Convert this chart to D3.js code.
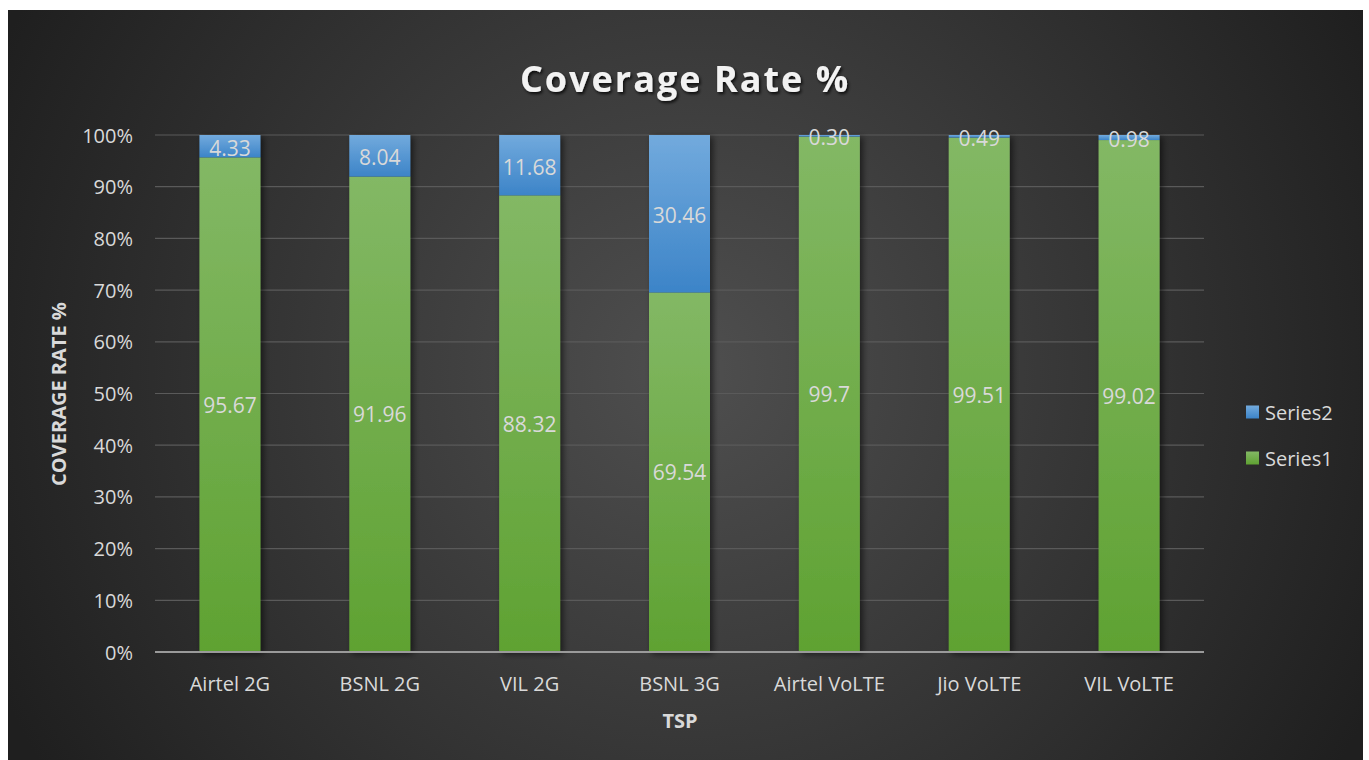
<!DOCTYPE html>
<html>
<head>
<meta charset="utf-8">
<script src="https://cdn.jsdelivr.net/npm/d3@7"></script>
<style>
  html, body { margin: 0; padding: 0; background: #ffffff; }
  svg { display: block; }
</style>
</head>
<body>
<script>
const categories = ["Airtel 2G", "BSNL 2G", "VIL 2G", "BSNL 3G", "Airtel VoLTE", "Jio VoLTE", "VIL VoLTE"];
const series1 = [95.67, 91.96, 88.32, 69.54, 99.7, 99.51, 99.02];
const series2 = [4.33, 8.04, 11.68, 30.46, 0.30, 0.49, 0.98];
const series1Labels = ["95.67", "91.96", "88.32", "69.54", "99.7", "99.51", "99.02"];
const series2Labels = ["4.33", "8.04", "11.68", "30.46", "0.30", "0.49", "0.98"];
const yTicks = [0, 10, 20, 30, 40, 50, 60, 70, 80, 90, 100];
const seriesNames = ["Series1", "Series2"];

(function () {
const W = 1369, H = 760;
const FONT = "'Open Sans', sans-serif";
const svg = d3.select("body").append("svg").attr("width", W).attr("height", H);
const defs = svg.append("defs");

const bg = defs.append("radialGradient").attr("id", "bg")
  .attr("gradientUnits", "userSpaceOnUse").attr("cx", 690).attr("cy", 370).attr("r", 760);
bg.append("stop").attr("offset", "0%").attr("stop-color", "#4f4f4f");
bg.append("stop").attr("offset", "100%").attr("stop-color", "#1f1f1f");

const gG = defs.append("linearGradient").attr("id", "gGreen").attr("x1", 0).attr("y1", 0).attr("x2", 0).attr("y2", 1);
gG.append("stop").attr("offset", "0%").attr("stop-color", "#83b865");
gG.append("stop").attr("offset", "100%").attr("stop-color", "#5fa232");
const gB = defs.append("linearGradient").attr("id", "gBlue").attr("x1", 0).attr("y1", 0).attr("x2", 0).attr("y2", 1);
gB.append("stop").attr("offset", "0%").attr("stop-color", "#72aadd");
gB.append("stop").attr("offset", "100%").attr("stop-color", "#3c84c8");

const sh = defs.append("filter").attr("id", "shadow").attr("x", "-20%").attr("y", "-5%").attr("width", "150%").attr("height", "115%");
sh.append("feDropShadow").attr("dx", 3).attr("dy", 2).attr("stdDeviation", 3).attr("flood-color", "#000").attr("flood-opacity", 0.55);

const ts = defs.append("filter").attr("id", "tshadow").attr("x", "-10%").attr("y", "-20%").attr("width", "130%").attr("height", "160%");
ts.append("feDropShadow").attr("dx", 1.5).attr("dy", 2).attr("stdDeviation", 1.5).attr("flood-color", "#000").attr("flood-opacity", 0.8);

svg.append("rect").attr("x", 8).attr("y", 10).attr("width", 1355).attr("height", 750).attr("fill", "url(#bg)");

const pLeft = 155, pRight = 1204, pTop = 135, pBottom = 652;
const x = d3.scaleBand().domain(categories).range([pLeft, pRight]).paddingInner(0.593).paddingOuter(0.2965);
const y = d3.scaleLinear().domain([0, 100]).range([pBottom, pTop]);

// gridlines
svg.append("g").selectAll("line").data(yTicks.filter(d => d > 0)).join("line")
  .attr("x1", pLeft).attr("x2", pRight)
  .attr("y1", d => y(d)).attr("y2", d => y(d))
  .attr("stroke", "#5a5a5a").attr("stroke-width", 1.2);

// y tick labels
svg.append("g").selectAll("text").data(yTicks).join("text")
  .attr("x", 133).attr("y", d => y(d))
  .attr("text-anchor", "end").attr("dominant-baseline", "central")
  .attr("fill", "#d9d9d9").attr("font-family", FONT).attr("font-size", 20)
  .text(d => d + "%");

// bars
const stack = categories.map((c, i) => ({ c, s1: series1[i], s2: series2[i], l1: series1Labels[i], l2: series2Labels[i] }));
const barsG = svg.append("g");
const bg1 = barsG.selectAll("g.bar").data(stack).join("g").attr("class", "bar").attr("filter", "url(#shadow)");
bg1.append("rect")
  .attr("x", d => x(d.c)).attr("width", x.bandwidth())
  .attr("y", d => y(d.s1)).attr("height", d => y(0) - y(d.s1))
  .attr("fill", "url(#gGreen)");
bg1.append("rect")
  .attr("x", d => x(d.c)).attr("width", x.bandwidth())
  .attr("y", d => y(d.s1 + d.s2)).attr("height", d => y(d.s1) - y(d.s1 + d.s2))
  .attr("fill", "url(#gBlue)");

// axis line
svg.append("line").attr("x1", pLeft).attr("x2", pRight).attr("y1", pBottom).attr("y2", pBottom)
  .attr("stroke", "#9a9a9a").attr("stroke-width", 2);

// data labels
const lab = svg.append("g").attr("fill", "#d9d9d9").attr("font-family", FONT).attr("font-size", 21)
  .attr("text-anchor", "middle").attr("dominant-baseline", "central");
lab.selectAll("text.s1").data(stack).join("text").attr("class", "s1")
  .attr("x", d => x(d.c) + x.bandwidth() / 2)
  .attr("y", d => (y(0) + y(d.s1)) / 2)
  .text(d => d.l1);
lab.selectAll("text.s2").data(stack).join("text").attr("class", "s2")
  .attr("x", d => x(d.c) + x.bandwidth() / 2)
  .attr("y", d => (y(d.s1) + y(d.s1 + d.s2)) / 2 + 1.5)
  .text(d => d.l2);

// x labels
svg.append("g").selectAll("text").data(categories).join("text")
  .attr("x", d => x(d) + x.bandwidth() / 2).attr("y", 683)
  .attr("text-anchor", "middle").attr("dominant-baseline", "central")
  .attr("fill", "#d9d9d9").attr("font-family", FONT).attr("font-size", 20)
  .text(d => d);

// axis titles
svg.append("text").attr("x", 680).attr("y", 720)
  .attr("text-anchor", "middle").attr("dominant-baseline", "central")
  .attr("fill", "#d9d9d9").attr("font-family", FONT).attr("font-weight", "bold").attr("font-size", 20)
  .text("TSP");
svg.append("text").attr("transform", "translate(58,394) rotate(-90)")
  .attr("text-anchor", "middle").attr("dominant-baseline", "central")
  .attr("fill", "#d9d9d9").attr("font-family", FONT).attr("font-weight", "bold").attr("font-size", 20)
  .text("COVERAGE RATE %");

// title
svg.append("text").attr("x", 685).attr("y", 78)
  .attr("text-anchor", "middle").attr("dominant-baseline", "central")
  .attr("fill", "#f2f2f2").attr("font-family", FONT).attr("font-weight", "bold").attr("font-size", 36)
  .attr("letter-spacing", 2).attr("filter", "url(#tshadow)")
  .text("Coverage Rate %");

// legend
const legendItems = [{ name: seriesNames[1], fill: "url(#gBlue)" }, { name: seriesNames[0], fill: "url(#gGreen)" }];
const lg = svg.append("g").selectAll("g").data(legendItems).join("g")
  .attr("transform", (d, i) => `translate(1246, ${412 + i * 46})`);
lg.append("rect").attr("x", 0).attr("y", -6.5).attr("width", 13).attr("height", 13).attr("fill", d => d.fill);
lg.append("text").attr("x", 19).attr("y", 0).attr("dominant-baseline", "central")
  .attr("fill", "#d9d9d9").attr("font-family", FONT).attr("font-size", 20)
  .text(d => d.name);
})();
</script>
</body>
</html>
